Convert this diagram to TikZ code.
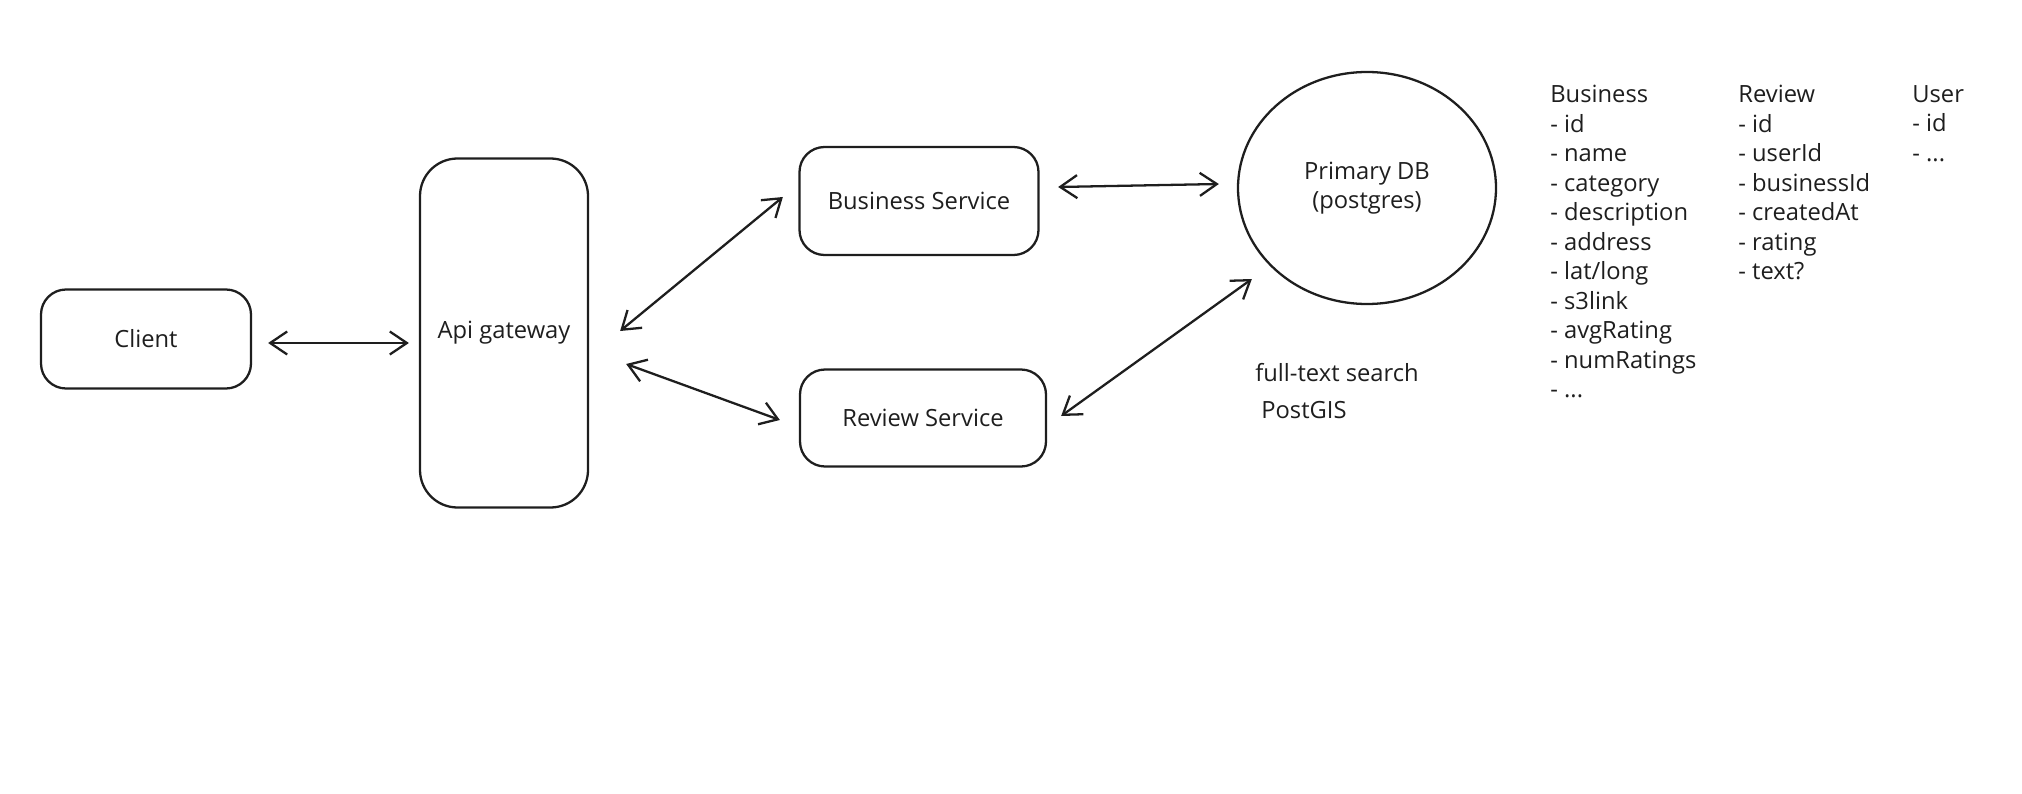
\documentclass[tikz,border=0pt]{standalone}
\usepackage{fontspec}
\setmainfont{Open Sans}
\usepackage{tikz}
\usetikzlibrary{arrows.meta,shapes.geometric}

\definecolor{ink}{HTML}{1E1E1E}

\begin{document}
\begin{tikzpicture}[
  box/.style={draw=ink, line width=1.3pt, rounded corners=0.5cm, align=center, text=ink, font=\fontsize{13.5}{16.5}\selectfont},
  dbshape/.style={draw=ink, ellipse, line width=1.3pt, inner sep=0pt, align=center, text=ink, font=\fontsize{13.5}{16.5}\selectfont},
  link/.style={<->, draw=ink, line width=1.3pt, >={Straight Barb[length=0.34cm,width=0.46cm]}},
  note/.style={anchor=west, inner sep=0pt, text=ink, font=\fontsize{13.5}{16.5}\selectfont},
  cols/.style={anchor=north west, inner sep=0pt, align=left, text=ink, font=\fontsize{13.5}{16.8}\selectfont}
]
\useasboundingbox (0,0) rectangle (40.44,-15.88);

\draw (2.92,-6.78)   node (client) [box, minimum width=4.2cm, minimum height=1.98cm] {Client};
\draw (10.08,-6.66)  node (gw) [box, rounded corners=0.75cm, minimum width=3.36cm, minimum height=6.98cm] {Api gateway};
\draw[link] ([shift={(0.32,-0.08)}]client.east) -- ([shift={(-0.2,-0.2)}]gw.west);

\draw (18.38,-4.02)  node (bs) [box, minimum width=4.78cm, minimum height=2.16cm] {Business Service};
\draw (18.46,-8.36)  node (rs) [box, minimum width=4.92cm, minimum height=1.94cm] {Review Service};
\draw[link] ([shift={(0.62,0.04)}]gw.east) -- ([shift={(-0.31,0.08)}]bs.west);
\draw[link] ([shift={(0.74,-0.62)}]gw.east) -- ([shift={(-0.38,-0.04)}]rs.west);

\draw (27.34,-3.76)  node (db) [dbshape, minimum width=5.16cm, minimum height=4.64cm] {Primary DB\\(postgres)};
\draw[link] ([shift={(0.37,0.28)}]bs.east) -- ([shift={(-0.36,0.08)}]db.west);
\draw[link] ([shift={(0.28,0.04)}]rs.east) -- ([shift={(0.30,-1.82)}]db.west);

\draw (25.1,-7.46)   node (fts) [note] {full-text search};
\draw (25.22,-8.2)   node (gis) [note] {PostGIS};

\draw (31.0,-1.7)    node (bizcol) [cols] {Business\\- id\\- name\\- category\\- description\\- address\\- lat/long\\- s3link\\- avgRating\\- numRatings\\- ...};
\draw (34.76,-1.7)   node (revcol) [cols] {Review\\- id\\- userId\\- businessId\\- createdAt\\- rating\\- text?};
\draw (38.24,-1.7)   node (usercol) [cols] {User\\- id\\- ...};
\end{tikzpicture}
\end{document}
